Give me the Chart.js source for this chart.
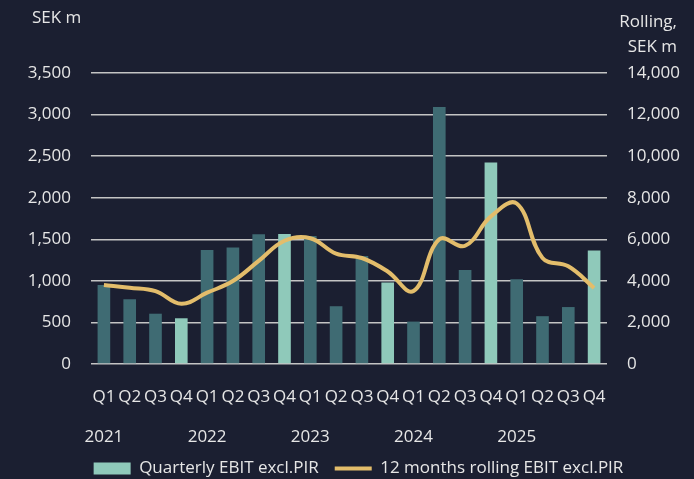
<!DOCTYPE html>
<html>
<head>
<meta charset="utf-8">
<script src="https://cdn.jsdelivr.net/npm/chart.js@4"></script>
<style>
html,body{margin:0;padding:0;background:#1b1f31;}
#wrap{width:694px;height:479px;position:relative;}
</style>
</head>
<body>
<div id="wrap"><canvas id="c" width="694" height="479"></canvas></div>
<script>
const quarters = ["Q1","Q2","Q3","Q4","Q1","Q2","Q3","Q4","Q1","Q2","Q3","Q4","Q1","Q2","Q3","Q4","Q1","Q2","Q3","Q4"];
const years = ["2021","","","","2022","","","","2023","","","","2024","","","","2025","","",""];
const quarterlyEbit = [950,780,605,550,1370,1400,1560,1565,1540,695,1300,980,510,3090,1130,2425,1020,575,685,1365];
const rollingEbit = [3800,3670,3510,2900,3430,3990,4960,5930,6050,5310,5100,4450,3510,6000,5690,7100,7720,5100,4700,3660];
const isQ4 = quarters.map(q => q === "Q4");

const DARK = "#3f6b73", LIGHT = "#8fc9ba", GOLD = "#e3bd6b", TXT = "#e6e6e6", GRID = "#c4c4c4";
const FONT = "'Open Sans', 'Noto Sans', sans-serif";

const labels = quarters.map((q, i) => [q, "", years[i]]);
const fmt = v => Number(v).toLocaleString("en-US");

const titles = {
  id: "titles",
  afterDraw(chart) {
    const ctx = chart.ctx;
    ctx.save();
    ctx.fillStyle = TXT;
    ctx.font = "17px " + FONT;
    ctx.textBaseline = "middle";
    ctx.textAlign = "left";
    ctx.fillText("SEK m", 32, 18);
    ctx.textAlign = "right";
    ctx.fillText("Rolling,", 677, 22);
    ctx.fillText("SEK m", 677, 47);
    ctx.restore();
  }
};

Chart.defaults.font.family = FONT;
Chart.defaults.font.size = 17;
Chart.defaults.color = TXT;

new Chart(document.getElementById("c"), {
  data: {
    labels: labels,
    datasets: [
      {
        type: "line",
        label: "12 months rolling EBIT excl.PIR",
        data: rollingEbit,
        yAxisID: "y2",
        borderColor: GOLD,
        backgroundColor: GOLD,
        borderWidth: 4,
        pointRadius: 0,
        pointStyle: "line",
        tension: 0.4,
        order: 0
      },
      {
        type: "bar",
        label: "Quarterly EBIT excl.PIR",
        data: quarterlyEbit,
        yAxisID: "y",
        backgroundColor: isQ4.map(b => b ? LIGHT : DARK),
        borderWidth: 0,
        categoryPercentage: 1,
        barPercentage: 0.49,
        pointStyle: "rect",
        order: 1
      }
    ]
  },
  options: {
    responsive: false,
    animation: false,
    layout: { padding: { top: 73, left: 23, right: 0, bottom: -8 } },
    plugins: {
      tooltip: { enabled: false },
      legend: {
        position: "bottom",
        reverse: true,
        labels: {
          color: TXT,
          font: { size: 17, family: FONT },
          usePointStyle: true,
          pointStyleWidth: 37,
          boxHeight: 12,
          padding: 16,
          generateLabels(chart) {
            const items = Chart.defaults.plugins.legend.labels.generateLabels(chart);
            items.forEach(it => {
              if (it.datasetIndex === 1) { it.fillStyle = LIGHT; it.strokeStyle = LIGHT; it.lineWidth = 0; }
              else { it.strokeStyle = GOLD; it.lineWidth = 4; }
            });
            return items;
          }
        }
      }
    },
    scales: {
      x: {
        offset: true,
        afterFit: s => { s.height = 80; },
        grid: { display: false, drawTicks: false },
        border: { display: false },
        ticks: {
          autoSkip: false, maxRotation: 0, minRotation: 0, padding: 23,
          color: TXT, font: { size: 17, lineHeight: 1.18 }
        }
      },
      y: {
        position: "left",
        min: 0, max: 3500,
        afterFit: s => { s.width = 68; },
        ticks: { stepSize: 500, padding: 20, color: TXT, callback: fmt },
        grid: { color: GRID, lineWidth: 1.5, drawTicks: false },
        border: { display: false }
      },
      y2: {
        position: "right",
        min: 0, max: 14000,
        afterFit: s => { s.width = 87; },
        ticks: { stepSize: 2000, padding: 20, color: TXT, callback: fmt },
        grid: { display: false, drawTicks: false },
        border: { display: false }
      }
    }
  },
  plugins: [titles]
});
</script>
</body>
</html>
